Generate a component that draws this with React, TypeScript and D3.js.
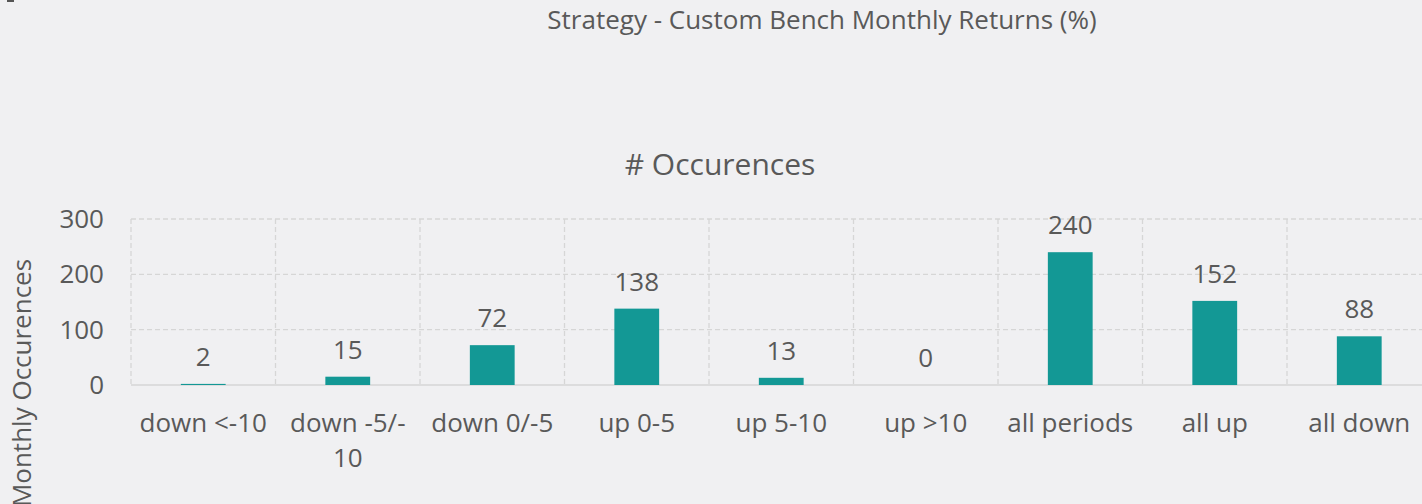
import React, { useRef, useEffect } from "react";
import * as d3 from "d3";

const categories = ["down <-10", "down -5/-10", "down 0/-5", "up 0-5", "up 5-10", "up >10", "all periods", "all up", "all down"];
const occurrences = [2, 15, 72, 138, 13, 0, 240, 152, 88];
const yTicks = [0, 100, 200, 300];

export default function App() {
    const width = 1422;
    const height = 504;
    const ref = useRef<SVGSVGElement>(null);

    const left = 131;
    const bandW = 144.5;
    const top = 219;
    const bottom = 385;
    const font = "'Open Sans', sans-serif";
    const textColor = "#595959";
    const fs = 26;

    useEffect(() => {
        document.body.style.margin = "0";
        const svg = d3.select(ref.current);
        svg.selectAll("*").remove();

        const x = d3.scaleBand()
            .domain(categories)
            .range([left, left + bandW * categories.length])
            .paddingInner(0.69)
            .paddingOuter(0.345);
        const y = d3.scaleLinear().domain([0, 300]).range([bottom, top]);

        svg.append("rect").attr("width", width).attr("height", height).attr("fill", "#f0f0f2");

        // little corner mark in the top left
        svg.append("path")
            .attr("d", "M14,1 H8 V0")
            .attr("fill", "none")
            .attr("stroke", "#555")
            .attr("stroke-width", 2);

        svg.append("text")
            .attr("x", 822).attr("y", 29)
            .attr("text-anchor", "middle")
            .attr("font-family", font).attr("font-size", fs)
            .attr("fill", textColor)
            .text("Strategy - Custom Bench Monthly Returns (%)");

        svg.append("text")
            .attr("x", 720).attr("y", 175)
            .attr("text-anchor", "middle")
            .attr("font-family", font).attr("font-size", 30)
            .attr("fill", textColor)
            .text("# Occurences");

        // grid
        const grid = svg.append("g").attr("stroke", "#d6d6d6").attr("stroke-width", 1.3);
        grid.selectAll("line.h")
            .data(yTicks.filter(d => d > 0))
            .enter().append("line")
            .attr("x1", left).attr("x2", width)
            .attr("y1", d => y(d)).attr("y2", d => y(d))
            .attr("stroke-dasharray", "5,3");
        grid.selectAll("line.v")
            .data(d3.range(categories.length + 1))
            .enter().append("line")
            .attr("x1", i => left + i * bandW).attr("x2", i => left + i * bandW)
            .attr("y1", y(300)).attr("y2", y(0))
            .attr("stroke-dasharray", "5,3");
        grid.append("line")
            .attr("x1", left).attr("x2", width)
            .attr("y1", y(0)).attr("y2", y(0));

        // y axis labels
        svg.append("g").selectAll("text")
            .data(yTicks)
            .enter().append("text")
            .attr("x", 104).attr("y", d => y(d))
            .attr("dy", "0.35em")
            .attr("text-anchor", "end")
            .attr("font-family", font).attr("font-size", fs)
            .attr("fill", textColor)
            .text(d => d);

        svg.append("text")
            .attr("transform", "translate(31, 383) rotate(-90)")
            .attr("text-anchor", "middle")
            .attr("font-family", font).attr("font-size", fs)
            .attr("fill", textColor)
            .text("Monthly Occurences");

        // bars
        svg.append("g").selectAll("rect")
            .data(occurrences)
            .enter().append("rect")
            .attr("x", (d, i) => x(categories[i]))
            .attr("width", x.bandwidth())
            .attr("y", d => y(d))
            .attr("height", d => y(0) - y(d))
            .attr("fill", "#139895");

        svg.append("g").selectAll("text")
            .data(occurrences)
            .enter().append("text")
            .attr("x", (d, i) => x(categories[i]) + x.bandwidth() / 2)
            .attr("y", d => y(d) - 18)
            .attr("text-anchor", "middle")
            .attr("font-family", font).attr("font-size", fs)
            .attr("fill", textColor)
            .text(d => d);

        // category labels, wrapped after a hyphen when too wide
        const labels = svg.append("g").selectAll("text")
            .data(categories)
            .enter().append("text")
            .attr("x", d => x(d) + x.bandwidth() / 2)
            .attr("y", 432)
            .attr("text-anchor", "middle")
            .attr("font-family", font).attr("font-size", fs)
            .attr("fill", textColor);

        labels.each(function (d) {
            const t = d3.select(this);
            t.text(d);
            const node = this as SVGTextElement;
            if (node.getComputedTextLength() > bandW - 4) {
                const cut = d.lastIndexOf("-") + 1;
                t.text(null);
                const cx = +t.attr("x");
                t.append("tspan").attr("x", cx).text(d.slice(0, cut));
                t.append("tspan").attr("x", cx).attr("dy", 35).text(d.slice(cut));
            }
        });
    }, []);

    return <svg ref={ref} width={width} height={height} style={{ display: "block" }} />;
}
